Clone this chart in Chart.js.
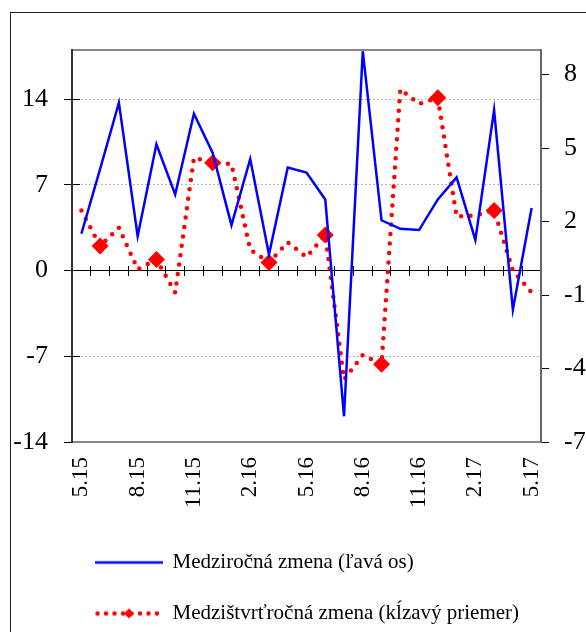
<!DOCTYPE html>
<html><head><meta charset="utf-8">
<script src="https://cdn.jsdelivr.net/npm/chart.js@4.4.1/dist/chart.umd.min.js"></script>
<style>
html,body{margin:0;padding:0;background:#fff;overflow:hidden;width:586px;height:632px;}
#frame{position:absolute;left:10px;top:12px;width:700px;height:700px;border:1px solid #222;box-sizing:border-box;}
#c{position:absolute;left:0;top:0;}
</style></head><body>
<div id="frame"></div>
<canvas id="c" width="586" height="634"></canvas>
<script>
// ---- data ----
const months = ['5.15','6.15','7.15','8.15','9.15','10.15','11.15','12.15','1.16','2.16','3.16','4.16',
                '5.16','6.16','7.16','8.16','9.16','10.16','11.16','12.16','1.17','2.17','3.17','4.17','5.17'];
const yoyChange = [3.0, 8.3, 13.7, 2.8, 10.3, 6.2, 12.8, 9.6, 3.7, 9.1, 1.3, 8.4,
                   8.0, 5.8, -11.9, 17.9, 4.1, 3.4, 3.3, 5.8, 7.6, 2.5, 13.1, -3.2, 5.1];
const qoqChange = [2.45, 1.0, 1.75, 0.05, 0.45, -0.9, 4.6, 4.4, 4.35, 0.85, 0.33, 1.15,
                   0.55, 1.45, -4.45, -3.45, -3.83, 7.4, 6.8, 7.05, 2.2, 2.25, 2.45, 0.0, -0.9];
const leftTicks = [-14, -7, 0, 7, 14];
const rightTicks = [-7, -4, -1, 2, 5, 8];
const seriesNames = ['Medziročná zmena (ľavá os)', 'Medzištvrťročná zmena (kĺzavý priemer)'];

const FAMILY = 'Liberation Serif';
const labelEvery = 3;

function lineSample() {
  const c = document.createElement('canvas'); c.width = 74; c.height = 14;
  const g = c.getContext('2d');
  g.strokeStyle = '#0000ff'; g.lineWidth = 2.5;
  g.beginPath(); g.moveTo(0, 7); g.lineTo(68, 7); g.stroke();
  return c;
}
function dotSample() {
  const c = document.createElement('canvas'); c.width = 74; c.height = 14;
  const g = c.getContext('2d');
  g.strokeStyle = '#ff0000'; g.lineWidth = 4.5; g.lineCap = 'round'; g.setLineDash([0, 8.5]);
  g.beginPath(); g.moveTo(2.5, 7); g.lineTo(64, 7); g.stroke();
  g.setLineDash([]); g.fillStyle = '#ff0000';
  g.beginPath(); g.moveTo(29, 7); g.lineTo(34, 2); g.lineTo(39, 7); g.lineTo(34, 12); g.closePath(); g.fill();
  return c;
}
const legendSamples = [lineSample(), dotSample()];

const zeroTickColor = ctx => (ctx.index === undefined ? 'rgba(0,0,0,0)' : '#000');

new Chart(document.getElementById('c'), {
  type: 'line',
  data: {
    labels: months,
    datasets: [
      { label: seriesNames[0], data: yoyChange, yAxisID: 'y', xAxisID: 'x',
        borderColor: '#0000ff', backgroundColor: '#0000ff', borderWidth: 2.5,
        pointRadius: 0, tension: 0, fill: false },
      { label: seriesNames[1], data: qoqChange, yAxisID: 'y1', xAxisID: 'x',
        borderColor: '#ff0000', backgroundColor: '#ff0000', borderWidth: 4.5,
        borderDash: [0, 9.5], borderCapStyle: 'round',
        pointStyle: 'rectRot', pointRadius: ctx => (ctx.dataIndex % 3 === 1 ? 8.5 : 0),
        pointBorderWidth: 0, pointBackgroundColor: '#ff0000', tension: 0, fill: false }
    ]
  },
  options: {
    responsive: false, animation: false, events: [],
    layout: {padding: {top: 50, left: 0, right: 0, bottom: 0}},
    plugins: {
      tooltip: {enabled: false},
      legend: {
        position: 'bottom', align: 'start', fullSize: false,
        labels: {
          usePointStyle: true, pointStyleWidth: 60, padding: 30,
          color: '#000', font: {family: FAMILY, size: 21},
          generateLabels: chart => {
            const items = Chart.defaults.plugins.legend.labels.generateLabels(chart);
            items.forEach((it, i) => { it.pointStyle = legendSamples[i]; });
            return items;
          }
        }
      }
    },
    scales: {
      x: {
        type: 'category', position: 'bottom', offset: true,
        grid: {display: false, drawTicks: false, offset: true},
        border: {display: true, color: '#888', width: 2},
        ticks: {autoSkip: false, maxRotation: 90, minRotation: 90, padding: 15, color: '#000',
                font: {family: FAMILY, size: 23},
                callback: (v, i) => (i % labelEvery === 0 ? months[i] : '')},
        afterFit: s => { s.height = 80; }
      },
      xTop: {
        type: 'category', position: 'top', offset: true,
        grid: {display: false, drawTicks: false},
        border: {display: true, color: '#888', width: 2},
        ticks: {display: false},
        afterFit: s => { s.height = 0; }
      },
      xZero: {
        type: 'category', axis: 'x', position: {y: 0}, offset: true,
        grid: {offset: true, drawOnChartArea: false, drawTicks: true, tickLength: 5, tickWidth: 1, tickColor: zeroTickColor},
        border: {display: true, color: '#000', width: 1},
        ticks: {display: false}
      },
      xZeroUp: {
        type: 'category', axis: 'x', position: {y: 0}, offset: true,
        grid: {offset: true, drawOnChartArea: false, drawTicks: true, tickLength: -5, tickWidth: 1, tickColor: zeroTickColor},
        border: {display: false},
        ticks: {display: false}
      },
      y: {
        type: 'linear', position: 'left', min: -14, max: 18,
        afterBuildTicks: s => { s.ticks = leftTicks.map(v => ({value: v})); },
        grid: {
          color: ctx => (ctx.tick && ctx.tick.value !== 0 && ctx.tick.value !== leftTicks[0] ? '#b8b8b8' : 'rgba(0,0,0,0)'),
          lineWidth: 1, tickLength: 8, tickColor: '#000', tickWidth: 1
        },
        border: {display: true, color: '#333', width: 2, dash: [2, 2]},
        ticks: {padding: 16, color: '#000', font: {family: FAMILY, size: 26}},
        afterFit: s => { s.width = 72; }
      },
      yIn: {
        type: 'linear', axis: 'y', position: {x: -0.5}, min: -14, max: 18,
        afterBuildTicks: s => { s.ticks = leftTicks.map(v => ({value: v})); },
        grid: {drawOnChartArea: false, drawTicks: true, tickLength: -8, tickColor: '#000', tickWidth: 1},
        border: {display: false},
        ticks: {display: false}
      },
      y1: {
        type: 'linear', position: 'right', min: -7, max: 9,
        afterBuildTicks: s => { s.ticks = rightTicks.map(v => ({value: v})); },
        grid: {drawOnChartArea: false, tickLength: 8, tickColor: '#000', tickWidth: 1},
        border: {display: true, color: '#666', width: 2},
        ticks: {padding: 15, color: '#000', font: {family: FAMILY, size: 26}},
        afterFit: s => { s.width = 45; }
      }
    }
  }
});
</script>
</body></html>
